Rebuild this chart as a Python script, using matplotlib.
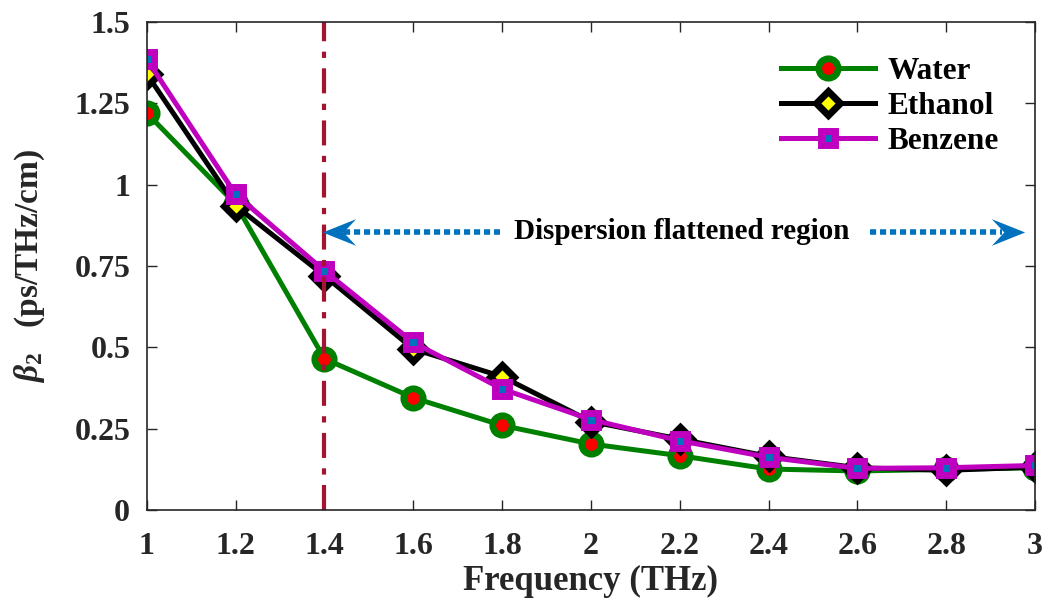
import matplotlib
matplotlib.use("Agg")
import matplotlib.pyplot as plt
from matplotlib.path import Path

plt.rcParams['font.family'] = ['Liberation Serif', 'DejaVu Serif']
plt.rcParams['font.weight'] = 'bold'
plt.rcParams['mathtext.fontset'] = 'custom'
plt.rcParams['mathtext.rm'] = 'Liberation Serif:bold'
plt.rcParams['mathtext.it'] = 'Liberation Serif:italic:bold'

# Daten
freq = [1.0, 1.2, 1.4, 1.6, 1.8, 2.0, 2.2, 2.4, 2.6, 2.8, 3.0]
water = [1.22, 0.94, 0.465, 0.345, 0.26, 0.203, 0.167, 0.126, 0.12, 0.125, 0.13]
ethanol = [1.34, 0.935, 0.72, 0.495, 0.41, 0.272, 0.218, 0.165, 0.13, 0.122, 0.132]
benzene = [1.385, 0.97, 0.735, 0.515, 0.372, 0.278, 0.213, 0.162, 0.128, 0.13, 0.137]

xticks = [1.0, 1.2, 1.4, 1.6, 1.8, 2.0, 2.2, 2.4, 2.6, 2.8, 3.0]
xlabels = ['1', '1.2', '1.4', '1.6', '1.8', '2', '2.2', '2.4', '2.6', '2.8', '3']
yticks = [0, 0.25, 0.5, 0.75, 1.0, 1.25, 1.5]
ylabels = ['0', '0.25', '0.5', '0.75', '1', '1.25', '1.5']

fig = plt.figure(figsize=(10.49, 6.05), dpi=100)
ax = fig.add_axes([0.140, 0.157, 0.8467, 0.8066])

ax.plot(freq, water, color='#008000', lw=3.6, marker='o', ms=14, mew=4.8,
        mfc='#FF0000', mec='#008000', label='Water')
ax.plot(freq, ethanol, color='black', lw=3.6, marker='D', ms=12, mew=5,
        mfc='#FFFF00', mec='black', label='Ethanol')
ax.plot(freq, benzene, color='#BF00BF', lw=3.6, marker='s', ms=10.5, mew=5,
        mfc='#0072BD', mec='#BF00BF', label='Benzene')

# vertikale Linie bei 1.4 THz
ax.axvline(1.4, color='#A2142F', lw=3, ls=(0, (6, 2.5, 1.5, 2.5)))

# Pfeile
head_left = Path([(-1, 0), (1, 0.8), (0.25, 0), (1, -0.8), (-1, 0)],
                 [Path.MOVETO, Path.LINETO, Path.LINETO, Path.LINETO, Path.CLOSEPOLY])
head_right = Path([(1, 0), (-1, 0.8), (-0.25, 0), (-1, -0.8), (1, 0)],
                  [Path.MOVETO, Path.LINETO, Path.LINETO, Path.LINETO, Path.CLOSEPOLY])
ya = 0.855
ax.plot([1.445, 1.795], [ya, ya], color='#0072BD', lw=4, ls=(0, (1.1, 0.7)),
        solid_capstyle='butt', dash_capstyle='butt')
ax.plot([2.628, 2.925], [ya, ya], color='#0072BD', lw=4, ls=(0, (1.1, 0.7)),
        solid_capstyle='butt', dash_capstyle='butt')
ax.plot([1.432], [ya], marker=head_left, ms=24, color='#0072BD', mew=0)
ax.plot([2.94], [ya], marker=head_right, ms=24, color='#0072BD', mew=0)
ax.text(2.205, ya, 'Dispersion flattened region', ha='center', va='center',
        fontsize=21, fontweight='bold')

ax.set_xlim(1, 3)
ax.set_ylim(0, 1.5)
ax.set_xticks(xticks, xlabels)
ax.set_yticks(yticks, ylabels)
ax.tick_params(direction='in', length=7, width=1, top=True, right=True,
               labelsize=23, colors='#262626')
ax.tick_params(axis='x', pad=16)
ax.tick_params(axis='y', pad=12)
for lab in ax.get_xticklabels() + ax.get_yticklabels():
    lab.set_fontweight('bold')
    lab.set_color('#262626')
for s in ax.spines.values():
    s.set_color('#262626')
    s.set_linewidth(1.2)

ax.set_xlabel('Frequency (THz)', fontsize=25, fontweight='bold', color='#262626', labelpad=3)
ax.set_ylabel(r'$\beta_2$   (ps/THz/cm)', fontsize=24, fontweight='bold', color='#262626', labelpad=20)

leg = ax.legend(loc='upper right', frameon=False, fontsize=22.5, handlelength=3.0,
                labelspacing=0.2, borderaxespad=0.9, handletextpad=0.4,
                bbox_to_anchor=(1.005, 1.012))
for t in leg.get_texts():
    t.set_fontweight('bold')

fig.savefig('out.png', dpi=100)
